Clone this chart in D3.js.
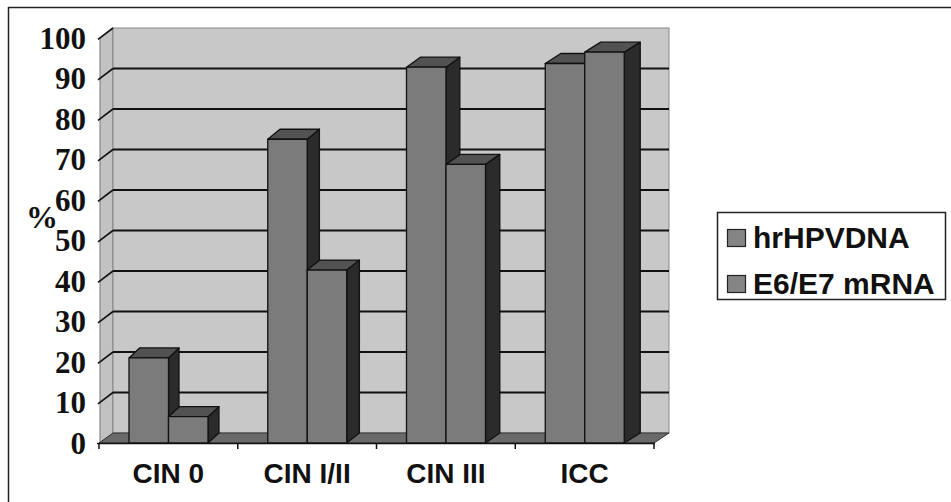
<!DOCTYPE html>
<html><head><meta charset="utf-8">
<script src="https://cdn.jsdelivr.net/npm/d3@7"></script>
<style>body{margin:0;background:#fff}svg{display:block}</style>
</head><body>
<script>
const categories = ["CIN 0", "CIN I/II", "CIN III", "ICC"];
const series = ["hrHPVDNA", "E6/E7 mRNA"];
const hrHPVDNA = [21, 75, 92.8, 93.7];
const e6e7 = [6.5, 42.7, 68.8, 96.5];
const yTicks = [0,10,20,30,40,50,60,70,80,90,100];

const W = 951, H = 502;
const svg = d3.select("body").append("svg").attr("width", W).attr("height", H);

// outer frame
svg.append("rect").attr("x", 8.5).attr("y", 7.5).attr("width", 1000).attr("height", 600)
  .attr("fill", "none").attr("stroke", "#222").attr("stroke-width", 1.5);

const DX = 14, DY = -10;
const x0 = d3.scaleBand().domain(categories).range([99, 654]);
const x1 = d3.scaleBand().domain(series).range([30, 109]);
const y = d3.scaleLinear().domain([0, 100]).range([443, 38]);

// left wall
svg.append("path").attr("d", `M100,${y(0)}L${100+DX-1},${y(0)+DY}L${100+DX-1},${y(100)+DY}L100,${y(100)}Z`)
  .attr("fill", "#c2c2c2").attr("stroke", "#777").attr("stroke-width", 1);
// back wall
svg.append("rect").attr("x", 113).attr("y", y(100)+DY).attr("width", 669-113).attr("height", y(0)-y(100))
  .attr("fill", "#c8c8c8").attr("stroke", "#888").attr("stroke-width", 1);
// floor
svg.append("path").attr("d", `M99,${y(0)}L654,${y(0)}L669,${y(0)+DY}L113,${y(0)+DY}Z`)
  .attr("fill", "#6a6a6a").attr("stroke", "#333").attr("stroke-width", 1);

// gridlines
const g = svg.append("g");
yTicks.filter(v => v > 0).forEach(v => {
  g.append("line").attr("x1", 113).attr("x2", 669).attr("y1", y(v)+DY).attr("y2", y(v)+DY)
    .attr("stroke", "#111").attr("stroke-width", v === 100 ? 0 : 1.8);
  g.append("line").attr("x1", 98).attr("x2", 113).attr("y1", y(v)+1.3).attr("y2", y(v)+DY)
    .attr("stroke", "#111").attr("stroke-width", 1.6);
});

// axis line & ticks
svg.append("line").attr("x1", 97).attr("x2", 655).attr("y1", y(0)+0.5).attr("y2", y(0)+0.5)
  .attr("stroke", "#111").attr("stroke-width", 1.5);
const bounds = categories.map(c => x0(c)).concat([x0.range()[1]]);
bounds.forEach(b => svg.append("line").attr("x1", b).attr("x2", b).attr("y1", y(0)).attr("y2", y(0)+6)
  .attr("stroke", "#111").attr("stroke-width", 1.5));

// bars
const data = [];
categories.forEach((c, i) => {
  data.push({c, s: series[0], v: hrHPVDNA[i]});
  data.push({c, s: series[1], v: e6e7[i]});
});
const bw = x1.bandwidth();
const bars = svg.append("g").attr("stroke", "#111").attr("stroke-width", 1.3).attr("stroke-linejoin", "round");
data.forEach(d => {
  const xl = x0(d.c) + x1(d.s), xr = xl + bw;
  const yt = y(d.v), yb = y(0);
  const dx = 10.5 + (xr - 169) * 0.012, dy = -10;
  bars.append("path").attr("d", `M${xr},${yt}L${xr+dx},${yt+dy}L${xr+dx},${yb+dy}L${xr},${yb}Z`).attr("fill", "#2b2b2b");
  bars.append("path").attr("d", `M${xl},${yt}L${xl+dx},${yt+dy}L${xr+dx},${yt+dy}L${xr},${yt}Z`).attr("fill", "#525252");
  bars.append("rect").attr("x", xl).attr("y", yt).attr("width", bw).attr("height", yb - yt).attr("fill", "#7b7b7b");
});

// y labels
yTicks.forEach(v => {
  svg.append("text").attr("x", 86).attr("y", y(v) + 10.5).attr("text-anchor", "end")
    .attr("font-family", "'Liberation Serif', 'Times New Roman', serif").attr("font-weight", "bold")
    .attr("font-size", 31).attr("fill", "#111").text(v);
});
svg.append("text").attr("x", 26).attr("y", 228)
  .attr("font-family", "'Liberation Serif', 'Times New Roman', serif").attr("font-weight", "bold")
  .attr("font-size", 32).attr("fill", "#111").text("%");

// category labels
categories.forEach(c => {
  svg.append("text").attr("x", x0(c) + x0.bandwidth()/2).attr("y", 483).attr("text-anchor", "middle")
    .attr("font-family", "'Liberation Sans', Arial, sans-serif").attr("font-weight", "bold")
    .attr("font-size", 28).attr("fill", "#111").text(c);
});

// legend
svg.append("rect").attr("x", 717.5).attr("y", 212.5).attr("width", 228).attr("height", 87)
  .attr("fill", "#fff").attr("stroke", "#222").attr("stroke-width", 1.5);
series.forEach((s, i) => {
  const yy = [229, 275][i];
  svg.append("rect").attr("x", 727.5).attr("y", yy + 0.5).attr("width", 18).attr("height", 17)
    .attr("fill", "#858585").attr("stroke", "#222").attr("stroke-width", 1.2);
  svg.append("text").attr("x", 753).attr("y", yy + 19)
    .attr("font-family", "'Liberation Sans', Arial, sans-serif").attr("font-weight", "bold")
    .attr("font-size", 30).attr("fill", "#111").text(s);
});
</script>
</body></html>
